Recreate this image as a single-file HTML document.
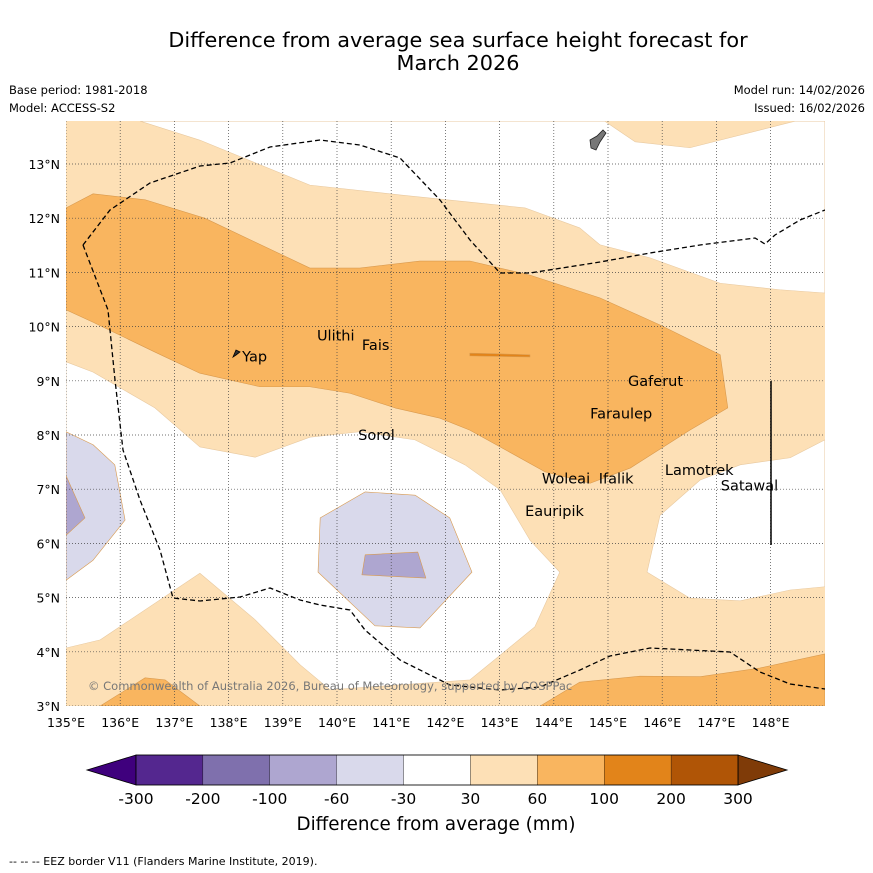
<!DOCTYPE html>
<html><head><meta charset="utf-8"><style>
body{margin:0;background:#fff;font-family:"DejaVu Sans","Liberation Sans",sans-serif}
svg{display:block;font-family:"DejaVu Sans","Liberation Sans",sans-serif}
</style></head><body>
<svg width="873" height="873" viewBox="0 0 873 873">
<rect width="873" height="873" fill="#fff"/>
<text x="458" y="47" font-size="20.8" text-anchor="middle">Difference from average sea surface height forecast for</text>
<text x="458" y="70" font-size="20.8" text-anchor="middle">March 2026</text>
<text x="9" y="94" font-size="11.5">Base period: 1981-2018</text>
<text x="9" y="112" font-size="11.5">Model: ACCESS-S2</text>
<text x="865" y="94" font-size="11.5" text-anchor="end">Model run: 14/02/2026</text>
<text x="865" y="112" font-size="11.5" text-anchor="end">Issued: 16/02/2026</text>
<defs><clipPath id="mc"><rect x="66" y="121" width="759" height="585"/></clipPath></defs>
<g id="map" clip-path="url(#mc)"></g>
<g id="axes"></g>
<g id="cbar"></g>
<text x="436" y="830" font-size="18.3" text-anchor="middle">Difference from average (mm)</text>
<text x="9" y="865" font-size="11">--  --  -- EEZ border V11 (Flanders Marine Institute, 2019).</text>
</svg>
<script>
const lonMin=135, latMin=3, ppd=54.2, x0=66, y0=706;
const lonTicks=[135,136,137,138,139,140,141,142,143,144,145,146,147,148];
const latTicks=[3,4,5,6,7,8,9,10,11,12,13];
const cbLevels=["-300","-200","-100","-60","-30","30","60","100","200","300"];
const cbColors=["#54278f","#7f70ad","#aea6d0","#d9d9eb","#ffffff","#fde0b6","#f9b55f","#e2841a","#b05506"];
const whiteTop=[[136.37,13.79],[137.47,13.44],[139.5,12.61],[141.16,12.43],[143.47,12.19],[144.48,11.82],[144.85,11.51],[145.77,11.27],[147.07,10.8],[148.17,10.68],[149,10.62],[149,13.79],[148.45,13.79],[146.51,13.3],[145.5,13.41],[144.94,13.79]];
const whiteMid=[[135,9.35],[135.5,9.16],[136.64,8.5],[137.47,7.78],[138.49,7.59],[139.5,7.96],[140.42,8.06],[141.44,7.91],[142.36,7.45],[143.01,6.99],[143.56,6.06],[144.11,5.47],[143.65,4.46],[142.45,3.48],[139.87,3.3],[139.32,3.76],[138.49,4.59],[137.47,5.45],[135.63,4.22],[135,4.07]];
const whiteRight=[[149,7.91],[148.36,7.58],[147.44,7.45],[146.7,7.17],[145.96,6.52],[145.72,5.47],[146.51,4.99],[147.44,4.94],[148.36,5.14],[149,5.2]];
const orangeMain=[[135,12.19],[135.5,12.45],[136.46,12.34],[137.56,12.0],[139.5,11.08],[140.42,11.08],[141.53,11.21],[142.45,11.21],[143.56,10.95],[144.85,10.53],[145.96,10.03],[147.07,9.48],[147.21,8.5],[146.51,8.09],[145.41,7.39],[144.67,7.11],[143.84,7.32],[143.01,7.78],[142.45,8.09],[141.9,8.31],[141.07,8.5],[140.24,8.77],[139.5,8.89],[138.58,8.89],[137.47,9.14],[136.64,9.53],[135.5,10.08],[135,10.31]];
const orangeBL=[[135.63,3],[136.46,3.52],[136.83,3.48],[137.47,3]];
const orangeBR=[[143.75,3],[144.48,3.44],[145.59,3.55],[146.7,3.54],[147.8,3.7],[149,3.96],[149,3]];
const darkStreak=[[142.45,9.51],[142.9,9.5],[143.56,9.48],[143.56,9.44],[142.45,9.46]];
const lpLeft=[[135,8.06],[135.5,7.82],[135.9,7.45],[136.09,6.43],[135.5,5.69],[135,5.32]];
const mpLeft=[[135,7.25],[135.35,6.47],[135,6.15]];
const lpMid=[[139.69,6.47],[140.52,6.95],[141.44,6.89],[142.08,6.47],[142.49,5.47],[141.53,4.44],[140.7,4.48],[139.65,5.47]];
const mpMid=[[140.52,5.79],[141.49,5.84],[141.64,5.36],[140.46,5.42]];
const places=[["Yap",138.25,9.45],["Ulithi",139.63,9.84],["Fais",140.46,9.66],["Gaferut",145.37,9.0],["Faraulep",144.67,8.4],["Sorol",140.39,8.0],["Woleai",143.78,7.2],["Ifalik",144.83,7.2],["Lamotrek",146.05,7.35],["Satawal",147.08,7.07],["Eauripik",143.47,6.6]];
const NS='http://www.w3.org/2000/svg';
const X=lon=>x0+(lon-lonMin)*ppd, Y=lat=>y0-(lat-latMin)*ppd;
function mk(tag,attrs,parent){const e=document.createElementNS(NS,tag);for(const k in attrs)e.setAttribute(k,attrs[k]);parent.appendChild(e);return e;}
const map=document.getElementById('map');
mk('rect',{x:66,y:121,width:759,height:585,fill:'#fde0b6'},map);
const regions=[[whiteTop,'#ffffff','contour-below-30-north'],[whiteMid,'#ffffff','contour-below-30-central'],[whiteRight,'#ffffff','contour-below-30-east'],[orangeMain,'#f9b55f','contour-60-100-band'],[orangeBL,'#f9b55f','contour-60-100-southwest'],[orangeBR,'#f9b55f','contour-60-100-southeast'],[darkStreak,'#e2841a','contour-100-200'],[lpLeft,'#d9d9eb','contour-neg30-west'],[mpLeft,'#aea6d0','contour-neg60-west'],[lpMid,'#d9d9eb','contour-neg30-central'],[mpMid,'#aea6d0','contour-neg60-central']];
regions.forEach(r=>{
 const p=mk('polygon',{points:r[0].map(q=>X(q[0])+','+Y(q[1])).join(' '),fill:r[1],stroke:r[1]==='#ffffff'?'#e8c9a0':'#d99a4e','stroke-width':0.6,'stroke-linejoin':'round'},map);
 
 
});
lonTicks.forEach(l=>{const g=mk('line',{x1:X(l),x2:X(l),y1:121,y2:706,stroke:'#444','stroke-width':0.7,'stroke-dasharray':'1,2'},map);
 
 });
latTicks.forEach(l=>{const g=mk('line',{x1:66,x2:825,y1:Y(l),y2:Y(l),stroke:'#444','stroke-width':0.7,'stroke-dasharray':'1,2'},map);
 
 });
const e1=mk('path',{d:'M83,245 L110,210 L150,183 L200,166 L230,163 L270,147 L320,140 L360,145 L400,158 L440,200 L470,240 L500,273 L530,273 L600,262 L650,253 L700,245 L755,238 L765,244 L775,235 L800,220 L825,210',fill:'none',stroke:'#000','stroke-width':1.3,'stroke-dasharray':'5,3'},map);


const e2=mk('path',{d:'M83,245 L108,310 L115,380 L123,450 L140,500 L160,550 L173,598 L200,601 L240,597 L270,588 L300,600 L320,605 L350,610 L365,630 L400,660 L450,685 L500,690 L540,687 L580,670 L610,656 L650,648 L690,650 L730,652 L760,672 L790,684 L825,689',fill:'none',stroke:'#000','stroke-width':1.3,'stroke-dasharray':'5,3'},map);


const vl=mk('line',{x1:771,x2:771,y1:381,y2:545,stroke:'#000','stroke-width':1.5},map);


const guam=mk('path',{d:'M590,140 L597,136 L603,130 L606,133 L600,142 L596,150 L591,148 Z',fill:'#777',stroke:'#222','stroke-width':0.8},map);


const yap=mk('path',{d:'M233,357 L236,350 L240,352 L236,355 Z',fill:'#333',stroke:'#000','stroke-width':0.8},map);


places.forEach(p=>{
 const t=mk('text',{x:X(p[1]),y:Y(p[2])+5,'font-size':14.5,fill:'#000'},map);t.textContent=p[0];
 
 
});
const cp=mk('text',{x:88,y:690,'font-size':11.5,fill:'#777'},map);cp.textContent='© Commonwealth of Australia 2026, Bureau of Meteorology, supported by COSPPac';


const ax=document.getElementById('axes');
lonTicks.forEach(l=>{const t=mk('text',{x:X(l),y:727,'font-size':12.5,'text-anchor':'middle'},ax);t.textContent=l+'°E';
 
 });
latTicks.forEach(l=>{const t=mk('text',{x:60,y:Y(l)+5,'font-size':12.5,'text-anchor':'end'},ax);t.textContent=l+'°N';
 
 });
const cb=document.getElementById('cbar');
const cbL=136, cbR=738, cy=755, ch=30, w=(cbR-cbL)/cbColors.length;
const tl=mk('polygon',{points:`87,${cy+ch/2} ${cbL},${cy} ${cbL},${cy+ch}`,fill:'#3f007d',stroke:'#000','stroke-width':0.8},cb);


const tr=mk('polygon',{points:`787,${cy+ch/2} ${cbR},${cy} ${cbR},${cy+ch}`,fill:'#7f3b08',stroke:'#000','stroke-width':0.8},cb);


cbColors.forEach((c,i)=>{const r=mk('rect',{x:cbL+i*w,y:cy,width:w,height:ch,fill:c,stroke:'#000','stroke-width':0.3},cb);
 
 });
mk('rect',{x:cbL,y:cy,width:cbR-cbL,height:ch,fill:'none',stroke:'#000','stroke-width':0.8},cb);
cbLevels.forEach((s,i)=>{const t=mk('text',{x:cbL+i*w,y:804,'font-size':15.5,'text-anchor':'middle'},cb);t.textContent=s;
 
 });
</script>
</body></html>
